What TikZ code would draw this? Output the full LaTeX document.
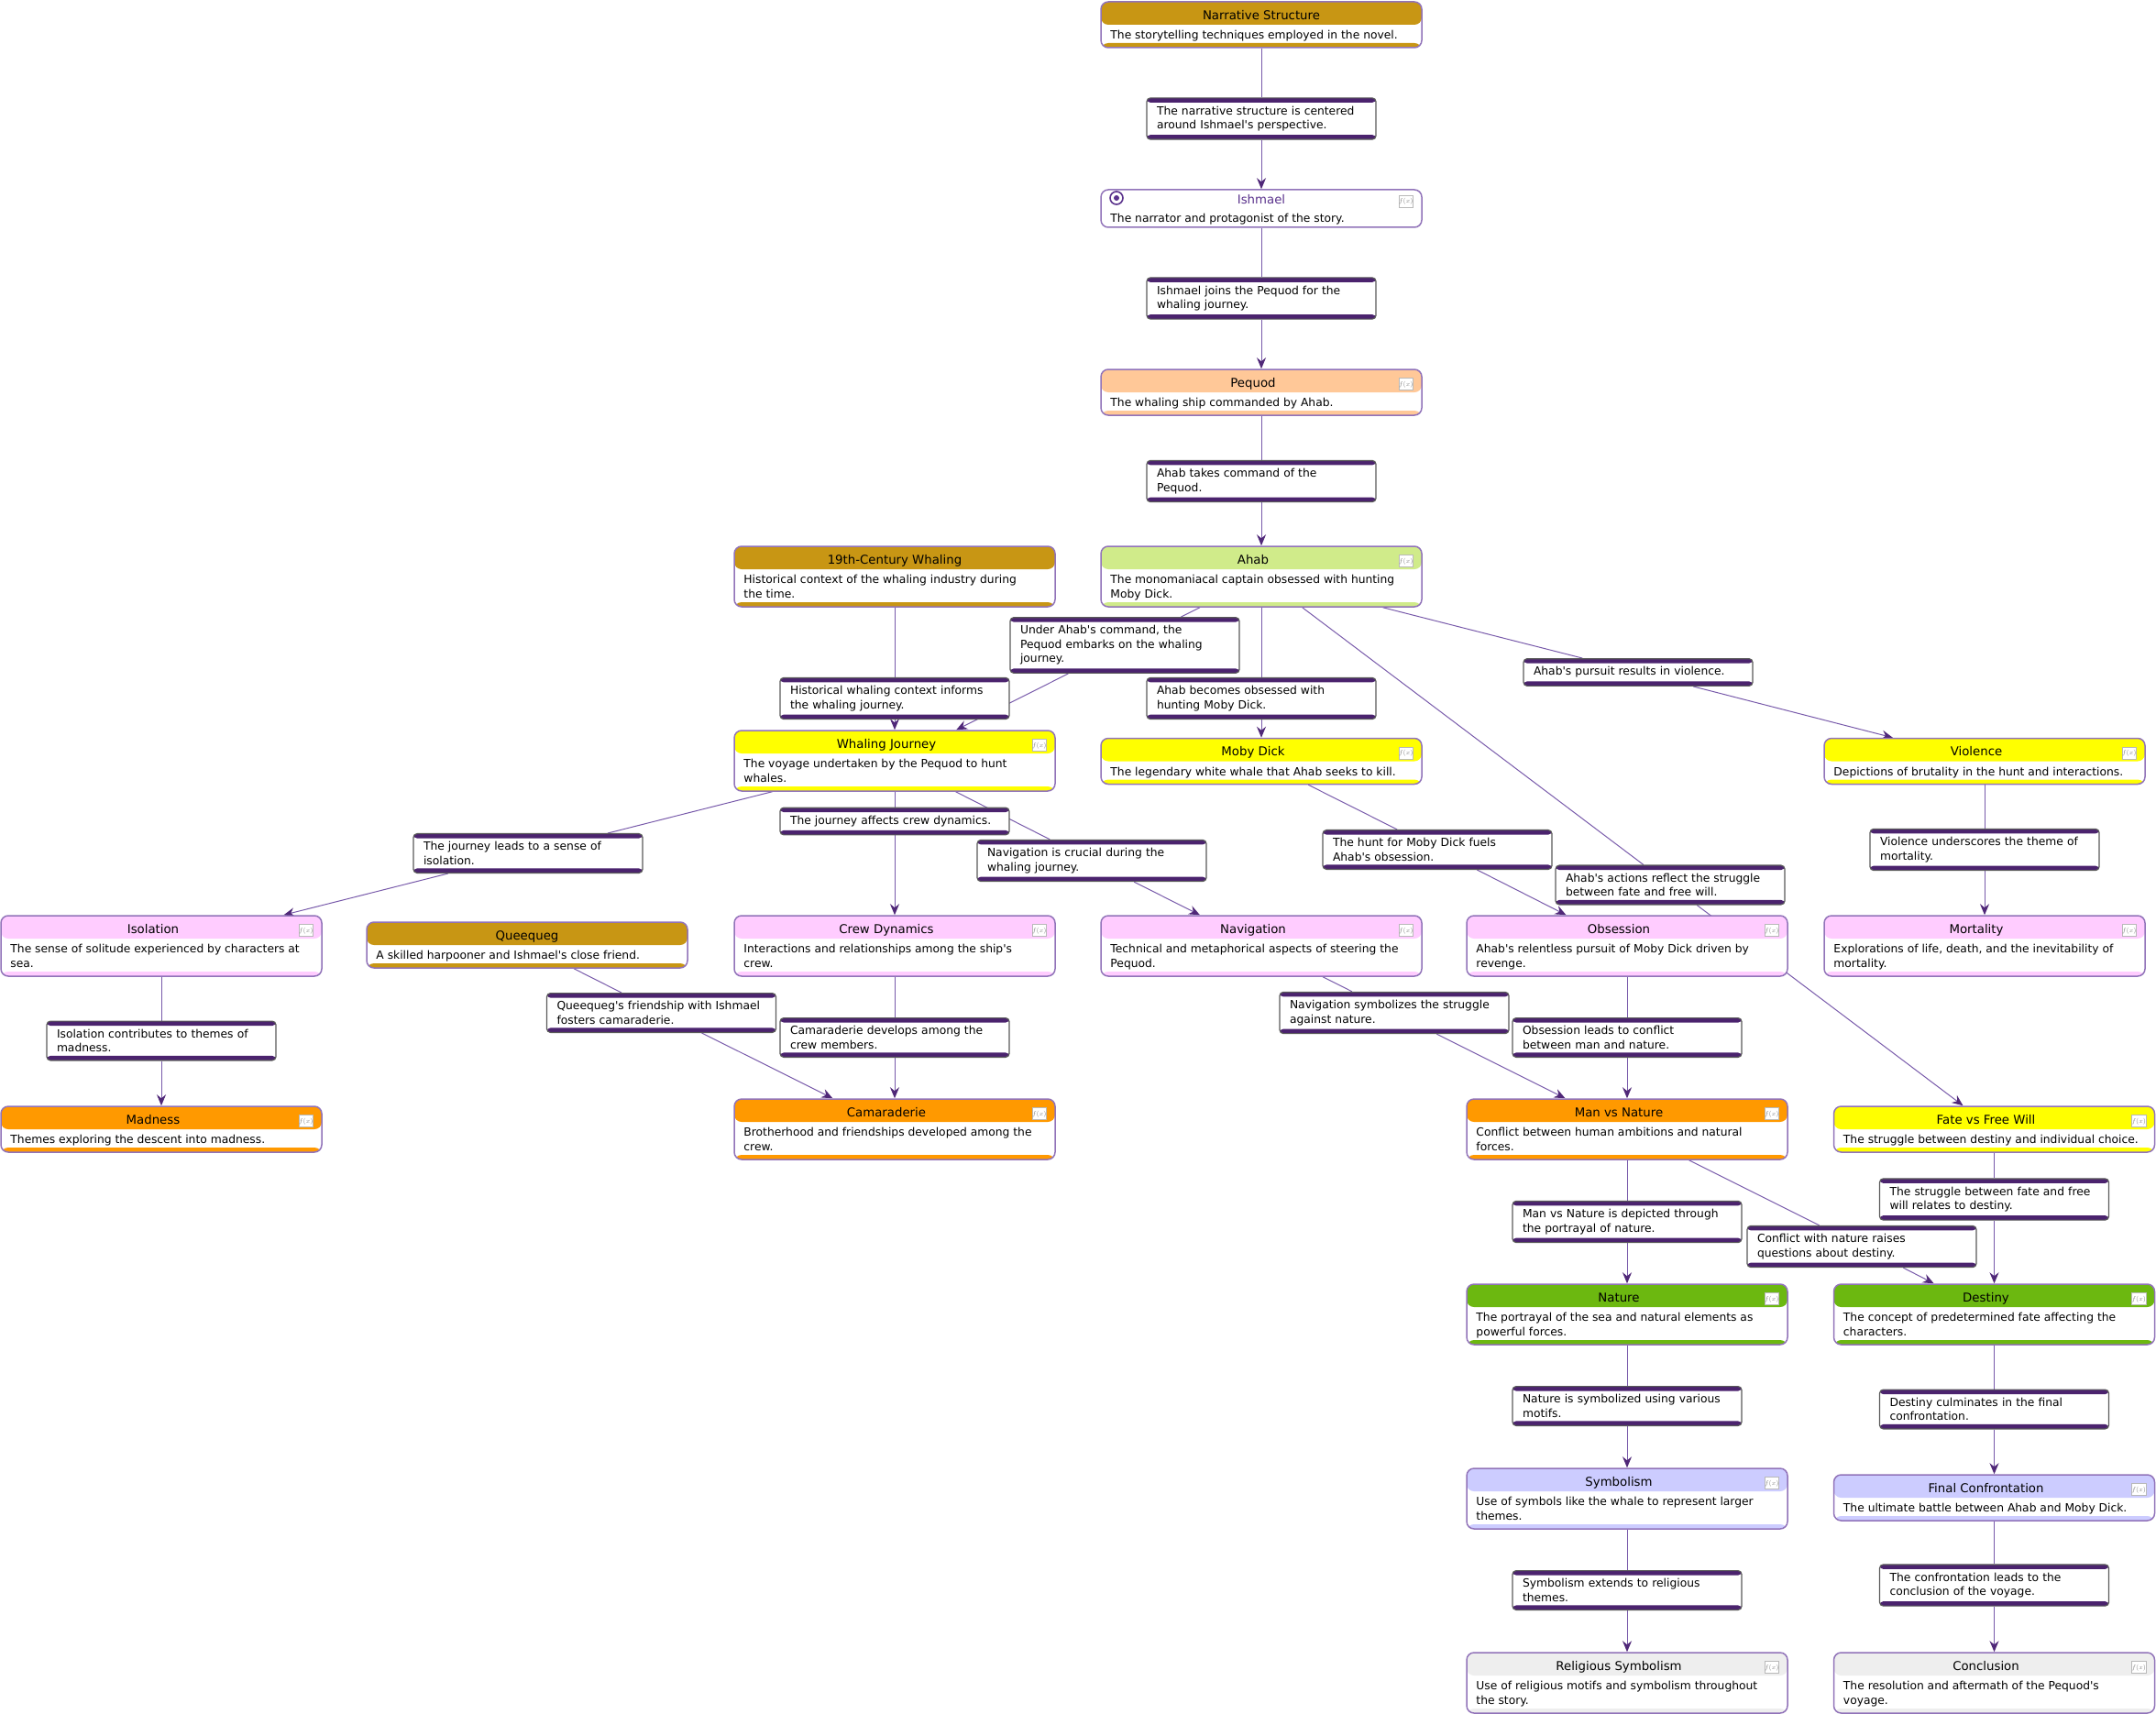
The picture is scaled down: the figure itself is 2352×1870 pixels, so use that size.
\documentclass[tikz,border=0pt]{standalone}
\usepackage{fontspec}
\setmainfont{DejaVu Sans}[Ligatures=TeXOff]
\usetikzlibrary{arrows.meta}

\definecolor{hgold}{RGB}{200,150,20}
\definecolor{hpeach}{RGB}{255,200,152}
\definecolor{hlime}{RGB}{208,235,138}
\definecolor{hyellow}{RGB}{255,255,0}
\definecolor{hpink}{RGB}{255,204,255}
\definecolor{horange}{RGB}{255,153,0}
\definecolor{hgreen}{RGB}{108,184,16}
\definecolor{hlavender}{RGB}{204,204,255}
\definecolor{hgray}{RGB}{238,238,238}
\definecolor{boxline}{RGB}{145,115,185}
\definecolor{bandcol}{RGB}{75,35,110}
\definecolor{linkline}{RGB}{90,90,90}
\definecolor{wirecol}{RGB}{120,90,170}
\definecolor{headcol}{RGB}{80,40,120}
\definecolor{ishmaelcol}{RGB}{90,50,140}

\newcommand{\ctitlefont}{\fontsize{13.3pt}{16pt}\selectfont}
\newcommand{\cbodyfont}{\fontsize{12.3pt}{16pt}\selectfont}
\newcommand{\linkfont}{\fontsize{12.3pt}{15.5pt}\selectfont}

\pgfdeclarelayer{background}
\pgfsetlayers{background,main}

\tikzset{
  concept/.style={draw=boxline, line width=1.5pt, rounded corners=8pt, fill=white,
    minimum width=350pt, inner sep=0pt,
    path picture={
      \fill [#1] (path picture bounding box.north west) rectangle ([yshift=-25pt]path picture bounding box.north east);
      \fill [#1] ([yshift=5pt]path picture bounding box.south west) rectangle (path picture bounding box.south east);
    }},
  ctitle/.style={anchor=base, inner sep=0pt, font=\ctitlefont},
  cdesc/.style={anchor=north west, inner sep=0pt, align=left, font=\cbodyfont},
  fxbox/.style={draw=gray!55, line width=0.6pt, fill=white, minimum width=15pt, minimum height=13pt,
    inner sep=0pt, text=gray, font=\fontsize{7pt}{7pt}\selectfont},
  target/.style={circle, draw=ishmaelcol, line width=1.6pt, minimum size=14pt, inner sep=0pt,
    path picture={\fill [ishmaelcol] (path picture bounding box.center) circle (3pt);}},
  linkbox/.style={draw=linkline, line width=1.2pt, rounded corners=4pt, fill=white,
    text width=228pt, align=left, inner xsep=11pt, inner ysep=8.9pt, font=\linkfont,
    path picture={
      \fill [bandcol] (path picture bounding box.north west) rectangle ([yshift=-5pt]path picture bounding box.north east);
      \fill [bandcol] ([yshift=5pt]path picture bounding box.south west) rectangle (path picture bounding box.south east);
    }},
  wire/.style={draw=wirecol, line width=1pt},
  wirehead/.style={-{Stealth[length=12pt, width=10pt, inset=4pt, color=headcol]}}
}

\newcommand{\plainbox}[7]{%
  \node [concept=#2, minimum height=#5pt] (#1) at (#3,#4) {};
  \node [ctitle] (#1-t) at ([yshift=-20pt]#1.north) {#6};
  \node [cdesc] (#1-d) at ([xshift=11pt,yshift=-32pt]#1.north west) {#7};
}
\newcommand{\conceptbox}[7]{%
  \node [concept=#2, minimum height=#5pt] (#1) at (#3,#4) {};
  \node [ctitle] (#1-t) at ([xshift=-9pt,yshift=-20pt]#1.north) {#6};
  \node [cdesc] (#1-d) at ([xshift=11pt,yshift=-32pt]#1.north west) {#7};
  \node [fxbox] (#1-fx) at ([xshift=-18pt,yshift=-17pt]#1.north east) {$f(x)$};
}

\begin{document}
\begin{tikzpicture}[x=1pt, y=-1pt]
\useasboundingbox (0,0) rectangle (2352,1870);

\plainbox{narr}{hgold}{1376}{27}{50}{Narrative Structure}{The storytelling techniques employed in the novel.}

\node [concept=white, minimum height=41pt] (ishmael) at (1376,227.5) {};
\node [ctitle, text=ishmaelcol] (ishmael-t) at ([yshift=-16pt]ishmael.north) {Ishmael};
\node [cdesc] (ishmael-d) at ([xshift=11pt,yshift=-27pt]ishmael.north west) {The narrator and protagonist of the story.};
\node [fxbox] (ishmael-fx) at ([xshift=-18pt,yshift=-14pt]ishmael.north east) {$f(x)$};
\node [target] (ishmael-i) at (1218,216) {};

\conceptbox{pequod}{hpeach}{1376}{428}{50}{Pequod}{The whaling ship commanded by Ahab.}
\conceptbox{ahab}{hlime}{1376}{629}{66}{Ahab}{The monomaniacal captain obsessed with hunting\\Moby Dick.}
\plainbox{whaling}{hgold}{976}{629}{66}{19th-Century Whaling}{Historical context of the whaling industry during\\the time.}
\conceptbox{journey}{hyellow}{976}{830}{66}{Whaling Journey}{The voyage undertaken by the Pequod to hunt\\whales.}
\conceptbox{moby}{hyellow}{1376}{830.5}{50}{Moby Dick}{The legendary white whale that Ahab seeks to kill.}
\conceptbox{violence}{hyellow}{2165}{830.5}{50}{Violence}{Depictions of brutality in the hunt and interactions.}
\conceptbox{isolation}{hpink}{176}{1032}{66}{Isolation}{The sense of solitude experienced by characters at\\sea.}
\plainbox{queequeg}{hgold}{575}{1031}{50}{Queequeg}{A skilled harpooner and Ishmael's close friend.}
\conceptbox{crew}{hpink}{976}{1032}{66}{Crew Dynamics}{Interactions and relationships among the ship's\\crew.}
\conceptbox{navigation}{hpink}{1376}{1032}{66}{Navigation}{Technical and metaphorical aspects of steering the\\Pequod.}
\conceptbox{obsession}{hpink}{1775}{1032}{66}{Obsession}{Ahab's relentless pursuit of Moby Dick driven by\\revenge.}
\conceptbox{mortality}{hpink}{2165}{1032}{66}{Mortality}{Explorations of life, death, and the inevitability of\\mortality.}
\conceptbox{madness}{horange}{176}{1232}{50}{Madness}{Themes exploring the descent into madness.}
\conceptbox{camaraderie}{horange}{976}{1232}{66}{Camaraderie}{Brotherhood and friendships developed among the\\crew.}
\conceptbox{mannature}{horange}{1775}{1232}{66}{Man vs Nature}{Conflict between human ambitions and natural\\forces.}
\conceptbox{fate}{hyellow}{2175.5}{1232}{50}{Fate vs Free Will}{The struggle between destiny and individual choice.}
\conceptbox{nature}{hgreen}{1775}{1434}{66}{Nature}{The portrayal of the sea and natural elements as\\powerful forces.}
\conceptbox{destiny}{hgreen}{2175.5}{1434}{66}{Destiny}{The concept of predetermined fate affecting the\\characters.}
\conceptbox{symbolism}{hlavender}{1775}{1635}{66}{Symbolism}{Use of symbols like the whale to represent larger\\themes.}
\conceptbox{final}{hlavender}{2175.5}{1634}{50}{Final Confrontation}{The ultimate battle between Ahab and Moby Dick.}
\conceptbox{religious}{hgray}{1775}{1836}{66}{Religious Symbolism}{Use of religious motifs and symbolism throughout\\the story.}
\conceptbox{conclusion}{hgray}{2175.5}{1836}{66}{Conclusion}{The resolution and aftermath of the Pequod's\\voyage.}

\node [linkbox] (l1) at (1376,129.5) {The narrative structure is centered\\around Ishmael's perspective.};
\node [linkbox] (l2) at (1376,325.5) {Ishmael joins the Pequod for the\\whaling journey.};
\node [linkbox] (l3) at (1376,525) {Ahab takes command of the\\Pequod.};
\node [linkbox] (l4) at (1227,704) {Under Ahab's command, the\\Pequod embarks on the whaling\\journey.};
\node [linkbox] (l5) at (976,762) {Historical whaling context informs\\the whaling journey.};
\node [linkbox] (l6) at (1376,762) {Ahab becomes obsessed with\\hunting Moby Dick.};
\node [linkbox] (l7) at (1787,733.5) {Ahab's pursuit results in violence.};
\node [linkbox] (l8) at (576,931) {The journey leads to a sense of\\isolation.};
\node [linkbox] (l9) at (976,896) {The journey affects crew dynamics.};
\node [linkbox] (l10) at (1191,939) {Navigation is crucial during the\\whaling journey.};
\node [linkbox] (l11) at (1568,927) {The hunt for Moby Dick fuels\\Ahab's obsession.};
\node [linkbox] (l12) at (1822,965.5) {Ahab's actions reflect the struggle\\between fate and free will.};
\node [linkbox] (l13) at (2165,927) {Violence underscores the theme of\\mortality.};
\node [linkbox] (l14) at (176,1135.5) {Isolation contributes to themes of\\madness.};
\node [linkbox] (l15) at (721.5,1105) {Queequeg's friendship with Ishmael\\fosters camaraderie.};
\node [linkbox] (l16) at (976,1132) {Camaraderie develops among the\\crew members.};
\node [linkbox] (l17) at (1521,1105) {Navigation symbolizes the struggle\\against nature.};
\node [linkbox] (l18) at (1775,1132) {Obsession leads to conflict\\between man and nature.};
\node [linkbox] (l19) at (1775,1333) {Man vs Nature is depicted through\\the portrayal of nature.};
\node [linkbox] (l20) at (2031,1360) {Conflict with nature raises\\questions about destiny.};
\node [linkbox] (l21) at (2175.5,1308.5) {The struggle between fate and free\\will relates to destiny.};
\node [linkbox] (l22) at (1775,1534) {Nature is symbolized using various\\motifs.};
\node [linkbox] (l23) at (2175.5,1537.5) {Destiny culminates in the final\\confrontation.};
\node [linkbox] (l24) at (1775,1735) {Symbolism extends to religious\\themes.};
\node [linkbox] (l25) at (2175.5,1729.5) {The confrontation leads to the\\conclusion of the voyage.};

\begin{pgfonlayer}{background}
\foreach \a/\l/\b in {narr/l1/ishmael, ishmael/l2/pequod, pequod/l3/ahab, ahab/l4/journey,
    whaling/l5/journey, ahab/l6/moby, ahab/l7/violence, journey/l8/isolation, journey/l9/crew,
    journey/l10/navigation, moby/l11/obsession, ahab/l12/fate, violence/l13/mortality,
    isolation/l14/madness, queequeg/l15/camaraderie, crew/l16/camaraderie, navigation/l17/mannature,
    obsession/l18/mannature, mannature/l19/nature, mannature/l20/destiny, fate/l21/destiny,
    nature/l22/symbolism, destiny/l23/final, symbolism/l24/religious, final/l25/conclusion}
{
  \draw [wire] (\a) -- (\l);
  \draw [wire, wirehead] (\l) -- (\b);
}
\end{pgfonlayer}
\end{tikzpicture}
\end{document}
